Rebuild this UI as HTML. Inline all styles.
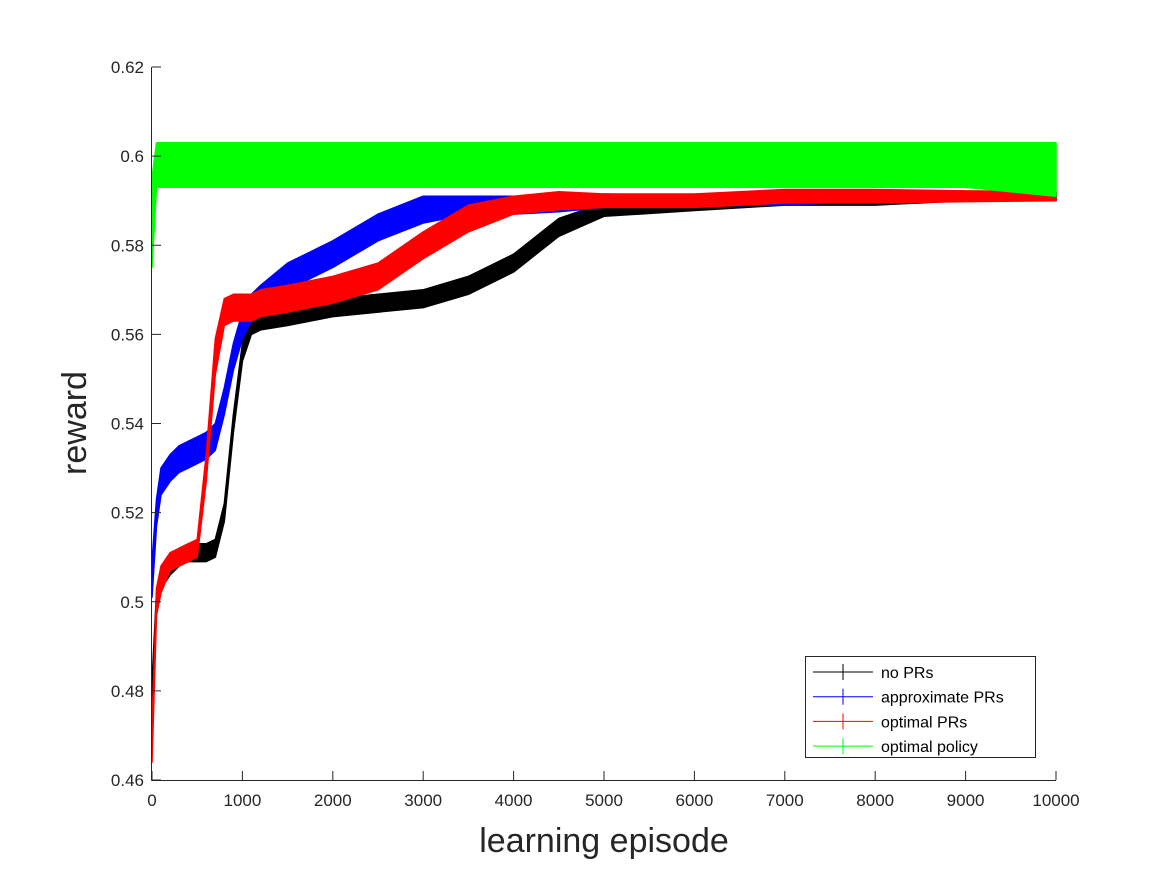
<!DOCTYPE html>
<html><head><meta charset="utf-8"><style>
html,body{margin:0;padding:0;background:#fff;}
svg{display:block;font-family:"Liberation Sans",Arial,sans-serif;}
</style></head><body>
<svg id="chart" width="1167" height="875" viewBox="0 0 1167 875">
<g id="series"></g>
<g id="axes"></g>
<text x="604" y="852" font-size="34" text-anchor="middle" fill="#262626">learning episode</text>
<text transform="translate(86,423) rotate(-90)" font-size="34" text-anchor="middle" fill="#262626">reward</text>
<g>
<rect x="805.5" y="656.5" width="230" height="101" fill="#fff" stroke="#262626" stroke-width="1"/>
<g id="legend-items"></g>
</g>
</svg>
<script>
const episodes = [0,50,100,200,300,400,500,600,700,800,900,1000,1100,1200,1500,2000,2500,3000,3500,4000,4500,5000,6000,7000,8000,9000,10000];
const noPRs      = [0.480,0.500,0.505,0.508,0.510,0.511,0.511,0.511,0.512,0.520,0.540,0.556,0.562,0.563,0.564,0.566,0.567,0.568,0.571,0.576,0.584,0.588,0.589,0.590,0.590,0.591,0.591];
const approxPRs  = [0.505,0.520,0.527,0.530,0.532,0.533,0.534,0.535,0.537,0.545,0.555,0.562,0.566,0.568,0.573,0.578,0.584,0.588,0.589,0.589,0.589,0.590,0.590,0.590,0.591,0.591,0.591];
const optPRs     = [0.468,0.500,0.505,0.509,0.510,0.511,0.512,0.530,0.555,0.565,0.566,0.566,0.566,0.567,0.568,0.570,0.573,0.580,0.586,0.589,0.590,0.590,0.590,0.591,0.591,0.591,0.591];
const optPolicy  = [0.585,0.598,0.598,0.598,0.598,0.598,0.598,0.598,0.598,0.598,0.598,0.598,0.598,0.598,0.598,0.598,0.598,0.598,0.598,0.598,0.598,0.598,0.598,0.598,0.598,0.598,0.597];
const noPRsSpread     = [0.002,0.002,0.002,0.002,0.002,0.002,0.002,0.002,0.002,0.002,0.002,0.002,0.002,0.002,0.002,0.002,0.002,0.002,0.002,0.002,0.002,0.0015,0.0012,0.001,0.001,0.001,0.001];
const approxSpread    = [0.004,0.003,0.003,0.003,0.003,0.003,0.003,0.003,0.003,0.003,0.003,0.003,0.003,0.003,0.003,0.003,0.003,0.003,0.002,0.002,0.0015,0.0015,0.0012,0.001,0.001,0.001,0.001];
const optPRsSpread    = [0.004,0.003,0.003,0.002,0.002,0.002,0.002,0.003,0.004,0.003,0.003,0.003,0.003,0.003,0.003,0.003,0.003,0.003,0.003,0.002,0.002,0.0015,0.0015,0.0015,0.0015,0.0012,0.001];
const policySpread    = [0.010,0.005,0.005,0.005,0.005,0.005,0.005,0.005,0.005,0.005,0.005,0.005,0.005,0.005,0.005,0.005,0.005,0.005,0.005,0.005,0.005,0.005,0.005,0.005,0.005,0.005,0.006];
const xTicks = [0,1000,2000,3000,4000,5000,6000,7000,8000,9000,10000];
const yTicks = [0.46,0.48,0.5,0.52,0.54,0.56,0.58,0.6,0.62];
const yTickLabels = ["0.46","0.48","0.5","0.52","0.54","0.56","0.58","0.6","0.62"];
const legendLabels = ["no PRs","approximate PRs","optimal PRs","optimal policy"];

const NS="http://www.w3.org/2000/svg";
const X0=152,X1=1056,Y0=780,Y1=67;
function xs(e){return X0+e/10000*(X1-X0);}
function ys(v){return Y0-(v-0.46)/0.16*(Y0-Y1);}

const sg=document.getElementById('series');
const series=[
 {name:'optimal-policy',c:'#00ff00',m:optPolicy,s:policySpread},
 {name:'no-prs',c:'#000000',m:noPRs,s:noPRsSpread},
 {name:'approximate-prs',c:'#0000ff',m:approxPRs,s:approxSpread},
 {name:'optimal-prs',c:'#ff0000',m:optPRs,s:optPRsSpread}
];
const order=[series[1],series[2],series[3],series[0]];
order.forEach(sr=>{
  let up=[],dn=[];
  for(let i=0;i<episodes.length;i++){
    up.push(xs(episodes[i]).toFixed(1)+','+ys(sr.m[i]+sr.s[i]).toFixed(1));
    dn.push(xs(episodes[i]).toFixed(1)+','+ys(sr.m[i]-sr.s[i]).toFixed(1));
  }
  const p=document.createElementNS(NS,'polygon');
  p.setAttribute('points',up.concat(dn.reverse()).join(' '));
  p.setAttribute('fill',sr.c);
  p.setAttribute('stroke',sr.c);
  p.setAttribute('stroke-width','1.5');
  p.setAttribute('stroke-linejoin','round');
  
  
  sg.appendChild(p);
});

const ag=document.getElementById('axes');
function line(x1,y1,x2,y2,name){
  const l=document.createElementNS(NS,'line');
  l.setAttribute('x1',x1);l.setAttribute('y1',y1);l.setAttribute('x2',x2);l.setAttribute('y2',y2);
  l.setAttribute('stroke','#262626');l.setAttribute('stroke-width','1');
  
  
  ag.appendChild(l);
}
line(X0-0.5,Y1,X0-0.5,Y0+0.5,'y-axis-line');
line(X0-0.5,Y0+0.5,X1,Y0+0.5,'x-axis-line');
xTicks.forEach(t=>{
  const x=xs(t);
  line(x,Y0,x,Y0-9,'x-tick');
  const tx=document.createElementNS(NS,'text');
  tx.setAttribute('x',x);tx.setAttribute('y',Y0+26);
  tx.setAttribute('font-size','17');tx.setAttribute('text-anchor','middle');tx.setAttribute('fill','#262626');
  tx.textContent=t;
  
  
  ag.appendChild(tx);
});
yTicks.forEach((t,i)=>{
  const y=ys(t);
  line(X0,y,X0+9,y,'y-tick');
  const tx=document.createElementNS(NS,'text');
  tx.setAttribute('x',X0-8);tx.setAttribute('y',y+6);
  tx.setAttribute('font-size','17');tx.setAttribute('text-anchor','end');tx.setAttribute('fill','#262626');
  tx.textContent=yTickLabels[i];
  
  
  ag.appendChild(tx);
});

const lg=document.getElementById('legend-items');
const lcols=['#000000','#0000ff','#ff0000','#00ff00'];
legendLabels.forEach((lab,i)=>{
  const y=672+i*24.7;
  const g=document.createElementNS(NS,'g');
  
  
  g.innerHTML='<line x1="813" y1="'+y+'" x2="873" y2="'+y+'" stroke="'+lcols[i]+'" stroke-width="1"/>'+
    '<line x1="843" y1="'+(y-8)+'" x2="843" y2="'+(y+8)+'" stroke="'+lcols[i]+'" stroke-width="1"/>'+
    '<text x="881" y="'+(y+6)+'" font-size="16" fill="#000">'+lab+'</text>';
  lg.appendChild(g);
});
</script>
</body></html>
